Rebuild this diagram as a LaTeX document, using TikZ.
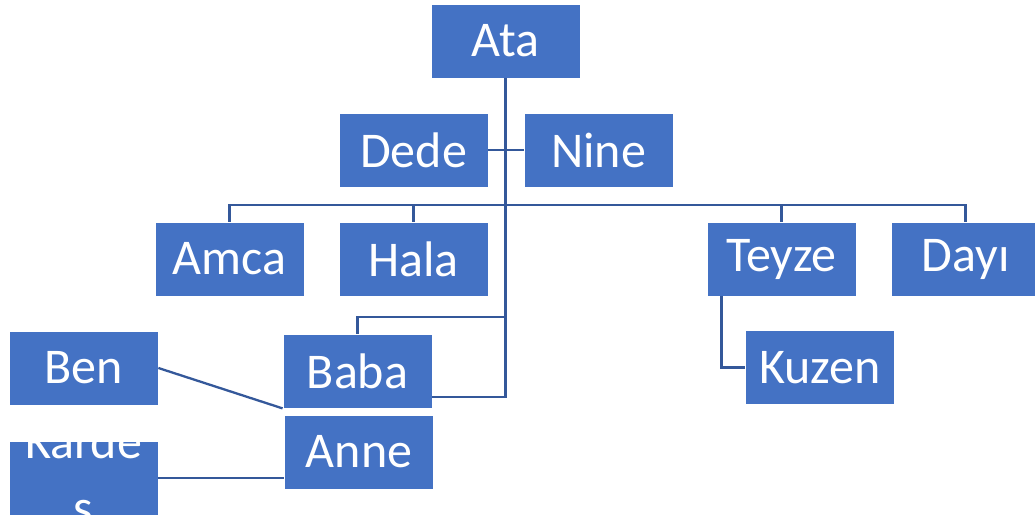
\documentclass[tikz,border=0pt]{standalone}
\usepackage{fontspec}
\setmainfont{Carlito}
\definecolor{boxblue}{HTML}{4472C4}
\definecolor{linkblue}{HTML}{34589A}
\begin{document}
\begin{tikzpicture}[x=1pt,y=-1pt,
  box/.style={rectangle, fill=boxblue, draw=white, line width=0.8pt,
    minimum width=149pt, minimum height=74pt, inner sep=0pt,
    text=white, font=\fontsize{50}{60}\selectfont},
  boxtext/.style={text=white, inner sep=0pt, font=\fontsize{50}{60}\selectfont},
  link/.style={draw=linkblue, line width=2.3pt}]
\useasboundingbox (0,0) rectangle (1035,521);
\fill[white] (0,0) rectangle (1035,521);

% family members
\node[box] (ata)   at (505.5,41)  {Ata};
\node[box] (dede)  at (413.5,150) {Dede};
\node[box] (nine)  at (598.5,150) {Nine};
\node[box] (amca)  at (229.5,259) {Amca};
\node[box] (hala)  at (413.5,259) {Hala};
\node[box] (teyze) at (781.5,259) {Teyze};
\node[box] (dayi)  at (965.5,259) {Dayı};
\node[box] (kuzen) at (820,367.5) {Kuzen};
\node[box] (ben)   at (83.5,368)  {Ben};
\node[box] (baba)  at (357.5,371) {Baba};
\node[box] (anne)  at (359,452)   {Anne};
\node[box] (kardes) at (83.5,478) {};
\begin{scope}
  \clip (kardes.south west) rectangle (kardes.north east);
  \node[boxtext, anchor=base] at (83.5,458) {Karde};
  \node[boxtext, anchor=base] at (83.5,524) {ş};
\end{scope}

% helper levels for the connectors
\coordinate (bus) at (0,205);
\coordinate (bt)  at (0,317);
\coordinate (bj)  at (0,397);

% connectors
\draw[link] (dede.east) -- (nine.west);
\draw[link] (ata.south) -- (ata.south |- bj) -- (baba.east |- bj);
\draw[link] (amca.north) -- (amca.north |- bus) -- (dayi.north |- bus) -- (dayi.north);
\draw[link] (hala.north) -- (hala.north |- bus);
\draw[link] (teyze.north) -- (teyze.north |- bus);
\draw[link] (ata.south |- bt) -- (baba.north |- bt) -- (baba.north);
\draw[link] ([xshift=15pt]teyze.south west) |- (kuzen.west);
\draw[link] (ben.east) -- (baba.south west);
\draw[link] (kardes.east) -- (anne.west |- kardes.east);
\end{tikzpicture}
\end{document}
